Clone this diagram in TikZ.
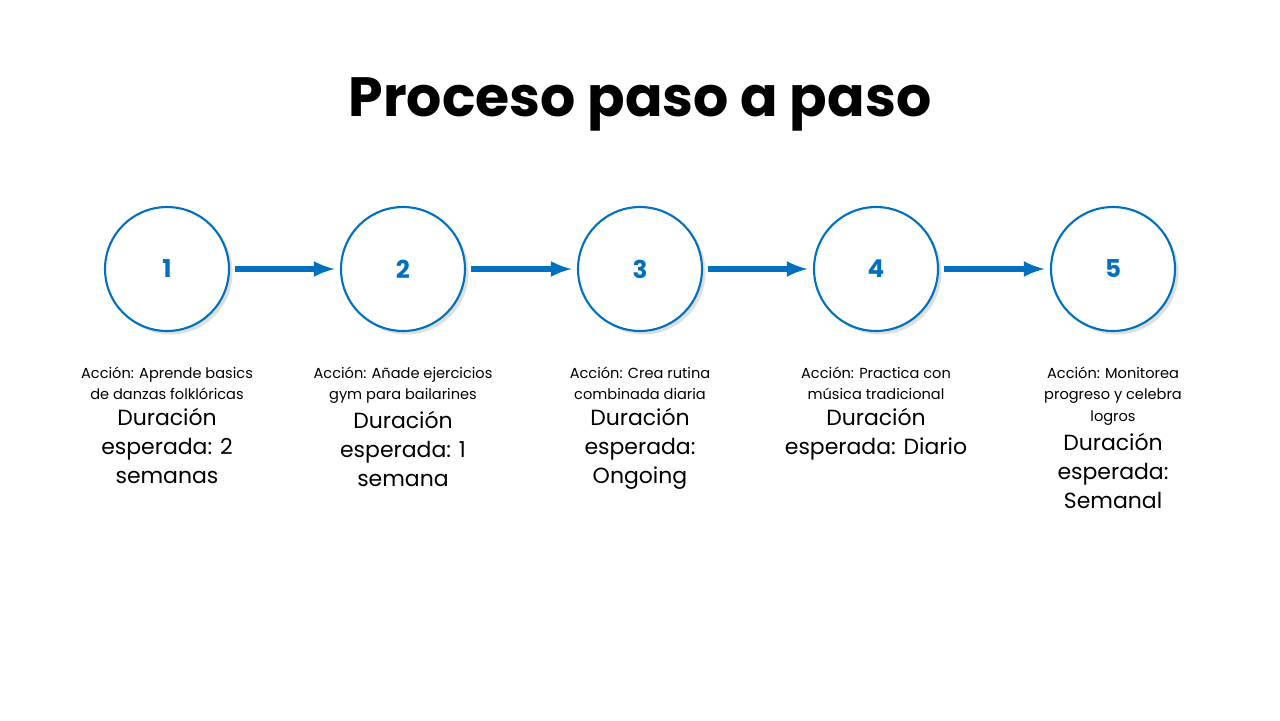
\documentclass[tikz,border=0pt]{standalone}
\usepackage{fontspec}
\setmainfont{Poppins}
\usetikzlibrary{shadows}
\definecolor{stepblue}{HTML}{0070C0}
\begin{document}
\begin{tikzpicture}[x=0.02cm,y=-0.02cm]
        \tikzset{
          stepcircle/.style={circle,draw=stepblue,line width=1.2pt,fill=white,minimum size=2.48cm,
            drop shadow={opacity=0.25,shadow xshift=2pt,shadow yshift=-2pt},
            font=\fontsize{14}{16}\selectfont\bfseries,text=stepblue},
          flow/.style={-latex,draw=stepblue,line width=3pt,shorten <=3pt,shorten >=3pt},
          info/.style={anchor=north,align=center,inner sep=0pt},
          small/.style={font=\fontsize{8.3}{12}\selectfont},
          big/.style={font=\fontsize{12.5}{16.5}\selectfont,yshift=-4pt}
        }
        \useasboundingbox (0,0) rectangle (1280,720);
        \node (title) at (640,104) {\fontsize{31.5}{38}\selectfont\bfseries Proceso paso a paso};
        
        \node[stepcircle] (S1) at (167,269) {1};
        \node[stepcircle] (S2) at (403,269) {2};
        \node[stepcircle] (S3) at (640,269) {3};
        \node[stepcircle] (S4) at (876,269) {4};
        \node[stepcircle] (S5) at (1113,269) {5};
        
        \draw[flow] (S1) -- (S2);
        \draw[flow] (S2) -- (S3);
        \draw[flow] (S3) -- (S4);
        \draw[flow] (S4) -- (S5);
        
        \node[info,small] (A1) at (167,367) {Acción: Aprende basics\\de danzas folklóricas};
        \node[info,big] (D1) at (A1.south) {Duración\\esperada: 2\\semanas};
        \node[info,small] (A2) at (403,367) {Acción: Añade ejercicios\\gym para bailarines};
        \node[info,big] (D2) at (A2.south) {Duración\\esperada: 1\\semana};
        \node[info,small] (A3) at (640,367) {Acción: Crea rutina\\combinada diaria};
        \node[info,big] (D3) at (A3.south) {Duración\\esperada:\\Ongoing};
        \node[info,small] (A4) at (876,367) {Acción: Practica con\\música tradicional};
        \node[info,big] (D4) at (A4.south) {Duración\\esperada: Diario};
        \node[info,small] (A5) at (1113,367) {Acción: Monitorea\\progreso y celebra\\logros};
        \node[info,big] (D5) at (A5.south) {Duración\\esperada:\\Semanal};
\end{tikzpicture}
\end{document}
